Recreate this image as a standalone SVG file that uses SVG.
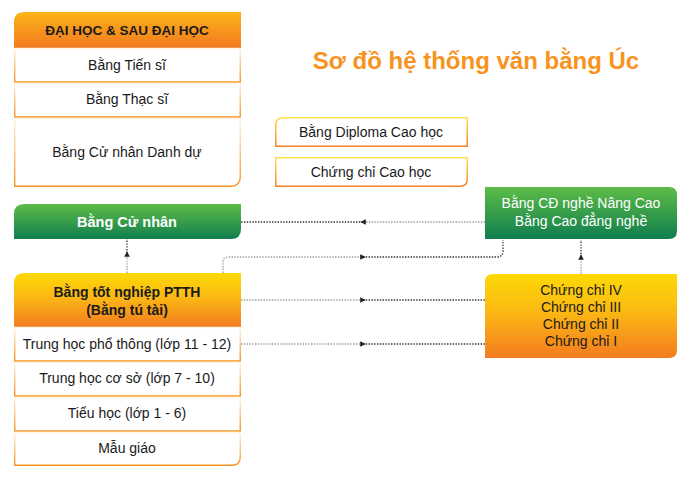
<svg xmlns="http://www.w3.org/2000/svg" xmlns:xlink="http://www.w3.org/1999/xlink" width="690" height="479" viewBox="0 0 690 479">
<defs>
<linearGradient id="gOrange" x1="0" y1="0" x2="0" y2="1"><stop offset="0" stop-color="#fbb317"/><stop offset="1" stop-color="#f37a21"/></linearGradient>
<linearGradient id="gYellow" x1="0" y1="0" x2="0" y2="1"><stop offset="0" stop-color="#fdd906"/><stop offset="0.45" stop-color="#fbb814"/><stop offset="1" stop-color="#f37c20"/></linearGradient>
<linearGradient id="gGreen" x1="0" y1="0" x2="0" y2="1"><stop offset="0" stop-color="#5dbc47"/><stop offset="1" stop-color="#107e4e"/></linearGradient>
<linearGradient id="gCell" x1="0" y1="0" x2="0" y2="1"><stop offset="0" stop-color="#fff4e6"/><stop offset="1" stop-color="#f7931e"/></linearGradient>
<linearGradient id="gBorder" x1="0" y1="0" x2="0" y2="1"><stop offset="0" stop-color="#fde047"/><stop offset="1" stop-color="#f58220"/></linearGradient>
<path id="ah" d="M2.8,0 L-2.8,-2.8 L-2.8,2.8 Z" fill="#222"/>
</defs>
<style>
text{font-family:"Liberation Sans","Noto Sans",Arial,sans-serif;text-anchor:middle}
.cell{fill:#fff;stroke:url(#gCell);stroke-width:1.4}
.t{font-size:14px;fill:#1a1a1a}
.hb{font-size:13.5px;font-weight:bold;fill:#1a1a1a}
.hw{font-size:14.5px;font-weight:bold;fill:#fff}
.tw{font-size:14px;fill:#fff}
.box{fill:#fff;stroke:url(#gBorder);stroke-width:1.5}
.tail{fill:none;stroke:#9a9a9a;stroke-width:1.3;stroke-dasharray:1.4 1.4}
.head{fill:none;stroke:#333;stroke-width:1.3;stroke-dasharray:1.4 1.4}
.title{font-size:24px;font-weight:bold;fill:#f7931e}
</style>

<text class="title" x="476" y="69">Sơ đồ hệ thống văn bằng Úc</text>

<g id="connectors">
<path class="tail" d="M485,222 H363"/>
<path class="head" d="M363,222 H241"/>
<use xlink:href="#ah" transform="translate(363,222) rotate(180)"/>
<path class="tail" d="M127,273 V256"/>
<path class="head" d="M127,256 V239"/>
<use xlink:href="#ah" transform="translate(127,254) rotate(-90)"/>
<path class="tail" d="M223,273 V262 Q223,257 228,257 H363"/>
<path class="head" d="M363,257 H497 Q503,257 503,251 V240"/>
<use xlink:href="#ah" transform="translate(363,257)"/>
<path class="tail" d="M241,300 H363"/>
<path class="head" d="M363,300 H485"/>
<use xlink:href="#ah" transform="translate(363,300)"/>
<path class="tail" d="M241,344 H363"/>
<path class="head" d="M363,344 H485"/>
<use xlink:href="#ah" transform="translate(363,344)"/>
<path class="tail" d="M581,274 V257"/>
<path class="head" d="M581,257 V240"/>
<use xlink:href="#ah" transform="translate(581,257) rotate(-90)"/>
</g>

<g id="dai-hoc">
<path d="M14,22 Q14,12 24,12 H241 V48 H14 Z" fill="url(#gOrange)"/>
<text class="hb" x="127" y="35">ĐẠI HỌC &amp; SAU ĐẠI HỌC</text>
</g>
<g id="tien-si">
<path class="cell" d="M14.75,48.5 H240.25 V82 H14.75 Z"/>
<text class="t" x="127" y="70">Bằng Tiến sĩ</text>
</g>
<g id="thac-si">
<path class="cell" d="M14.75,83.5 H240.25 V117 H14.75 Z"/>
<text class="t" x="127" y="104">Bằng Thạc sĩ</text>
</g>
<g id="cu-nhan-danh-du">
<path class="cell" d="M14.75,118.5 H240.25 V177 Q240.25,186.25 231,186.25 H14.75 Z"/>
<text class="t" x="127" y="157">Bằng Cử nhân Danh dự</text>
</g>

<g id="cu-nhan">
<path d="M14,214 Q14,204 24,204 H241 V229 Q241,239 231,239 H14 Z" fill="url(#gGreen)"/>
<text class="hw" x="127" y="227">Bằng Cử nhân</text>
</g>

<g id="ptth">
<path d="M14,283 Q14,273 24,273 H241 V327 H14 Z" fill="url(#gYellow)"/>
<text class="hb" x="127" y="297" style="font-size:14px">Bằng tốt nghiệp PTTH</text>
<text class="hb" x="127" y="315" style="font-size:14px">(Bằng tú tài)</text>
</g>
<g id="thpt">
<path class="cell" d="M14.75,327.5 H240.25 V361 H14.75 Z"/>
<text class="t" x="127" y="349">Trung học phổ thông (lớp 11 - 12)</text>
</g>
<g id="thcs">
<path class="cell" d="M14.75,362.5 H240.25 V396 H14.75 Z"/>
<text class="t" x="127" y="383">Trung học cơ sở (lớp 7 - 10)</text>
</g>
<g id="tieu-hoc">
<path class="cell" d="M14.75,397.5 H240.25 V431 H14.75 Z"/>
<text class="t" x="127" y="418">Tiểu học (lớp 1 - 6)</text>
</g>
<g id="mau-giao">
<path class="cell" d="M14.75,432.5 H240.25 V457 Q240.25,465.25 232,465.25 H14.75 Z"/>
<text class="t" x="127" y="453">Mẫu giáo</text>
</g>

<g id="diploma-cao-hoc">
<path class="box" d="M275.75,125 Q275.75,117.75 283,117.75 H467.25 V146.25 H275.75 Z"/>
<text class="t" x="371" y="137">Bằng Diploma Cao học</text>
</g>
<g id="chung-chi-cao-hoc">
<path class="box" d="M275.75,157.75 H467.25 V179 Q467.25,186.25 460,186.25 H275.75 Z"/>
<text class="t" x="371" y="177">Chứng chỉ Cao học</text>
</g>

<g id="cao-dang-nghe">
<path d="M485,187 H669 Q677,187 677,195 V231 Q677,239 669,239 H485 Z" fill="url(#gGreen)"/>
<text class="tw" x="581" y="208">Bằng CĐ nghề Nâng Cao</text>
<text class="tw" x="581" y="226">Bằng Cao đẳng nghề</text>
</g>

<g id="chung-chi">
<path d="M485,282 Q485,274 493,274 H677 V350 Q677,358 669,358 H485 Z" fill="url(#gYellow)"/>
<text class="t" x="581" y="295">Chứng chỉ IV</text>
<text class="t" x="581" y="312">Chứng chỉ III</text>
<text class="t" x="581" y="329">Chứng chỉ II</text>
<text class="t" x="581" y="346">Chứng chỉ I</text>
</g>
</svg>
